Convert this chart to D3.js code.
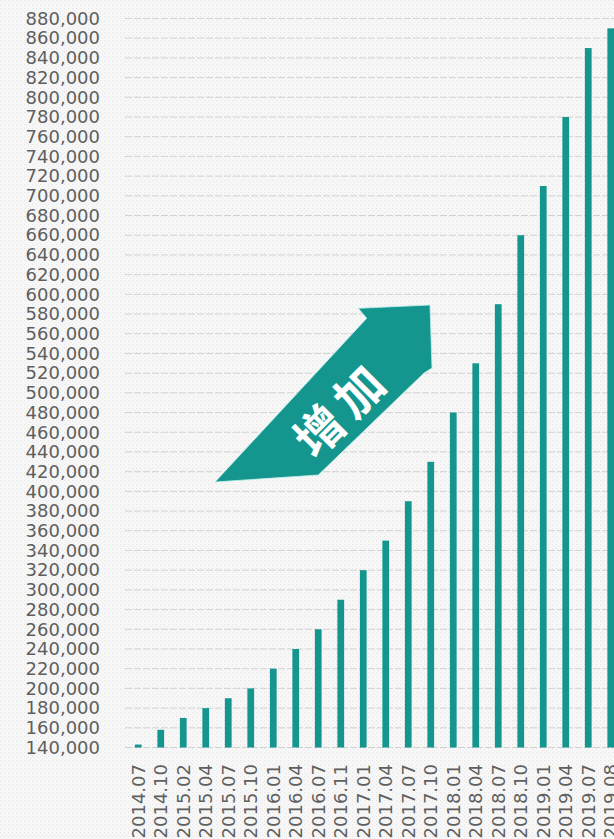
<!DOCTYPE html>
<html>
<head>
<meta charset="utf-8">
<script src="https://cdn.jsdelivr.net/npm/d3@7/dist/d3.min.js"></script>
<style>
  html, body { margin: 0; padding: 0; background: #ffffff; }
  svg { display: block; }
</style>
</head>
<body>
<div id="chart"></div>
<script>
// Monthly totals by period
const periods = ["2014.07","2014.10","2015.02","2015.04","2015.07","2015.10",
  "2016.01","2016.04","2016.07","2016.11","2017.01","2017.04","2017.07","2017.10",
  "2018.01","2018.04","2018.07","2018.10","2019.01","2019.04","2019.07","2019.08"];
const totals = [143000,158000,170000,180000,190000,200000,
  220000,240000,260000,290000,320000,350000,390000,430000,
  480000,530000,590000,660000,710000,780000,850000,870000];
const yTicks = [140000,160000,180000,200000,220000,240000,260000,280000,300000,
  320000,340000,360000,380000,400000,420000,440000,460000,480000,500000,520000,
  540000,560000,580000,600000,620000,640000,660000,680000,700000,720000,740000,
  760000,780000,800000,820000,840000,860000,880000];
const arrowLabel = ["增", "加"];

const W = 614, H = 839;
const teal = "#14968f";
const font = "'DejaVu Sans', sans-serif";

const svg = d3.select("#chart").append("svg")
  .attr("width", W).attr("height", H);

// faint textured backdrop
const defs = svg.append("defs");
const pat = defs.append("pattern").attr("id", "tex")
  .attr("width", 4).attr("height", 4).attr("patternUnits", "userSpaceOnUse");
pat.append("rect").attr("width", 4).attr("height", 4).attr("fill", "#f7f7f7");
pat.append("rect").attr("x", 0).attr("y", 0).attr("width", 1).attr("height", 1).attr("fill", "#e4e4e4");
pat.append("rect").attr("x", 2).attr("y", 2).attr("width", 1).attr("height", 1).attr("fill", "#eaeaea");
svg.append("rect").attr("width", W).attr("height", H).attr("fill", "url(#tex)");

const x = d3.scaleBand().domain(periods).range([127, 622])
  .paddingInner(0.7).paddingOuter(0.35);
const y = d3.scaleLinear().domain([140000, 880000]).range([747.5, 18.5]);

// horizontal gridlines
svg.append("g").selectAll("line").data(yTicks).join("line")
  .attr("x1", 125).attr("x2", W)
  .attr("y1", d => y(d)).attr("y2", d => y(d))
  .attr("stroke", "#d2d2d2").attr("stroke-width", 1)
  .attr("stroke-dasharray", "7,2");

// y axis labels
const yAxis = svg.append("g").attr("transform", "translate(100,0)")
  .call(d3.axisLeft(y).tickValues(yTicks).tickFormat(d3.format(",")).tickSize(0).tickPadding(0));
yAxis.select(".domain").remove();
yAxis.selectAll("text")
  .attr("fill", "#5f5f5f").attr("font-size", 18).attr("font-family", font);

// bars
svg.append("g").selectAll("rect").data(totals).join("rect")
  .attr("x", (d, i) => x(periods[i]))
  .attr("width", x.bandwidth())
  .attr("y", d => y(d))
  .attr("height", d => y(140000) - y(d))
  .attr("fill", teal);

// x axis labels, rotated
const xAxis = svg.append("g").attr("transform", "translate(0,764)")
  .call(d3.axisBottom(x).tickSize(0).tickPadding(0));
xAxis.select(".domain").remove();
xAxis.selectAll("text")
  .attr("fill", "#5f5f5f").attr("font-size", 18).attr("font-family", font)
  .attr("text-anchor", "end")
  .attr("transform", "rotate(-90)")
  .attr("x", 0).attr("y", 0).attr("dy", "0.36em");

// rising arrow annotation
const arrowPts = [[215,482],[366.7,318.3],[358.3,308.3],[430,305],[432,368],[424,373],[318.3,475]];
svg.append("polygon")
  .attr("points", arrowPts.map(p => p.join(",")).join(" "))
  .attr("fill", teal)
  .attr("stroke", "#bff0ee").attr("stroke-width", 0.8).attr("stroke-linejoin", "miter");

const lab = svg.append("g").attr("transform", "translate(337,409) rotate(-45)");
lab.selectAll("text").data(arrowLabel).join("text")
  .attr("x", (d, i) => (i - 0.5) * 56)
  .attr("y", 0)
  .attr("text-anchor", "middle")
  .attr("dominant-baseline", "central")
  .attr("font-family", "'Noto Sans CJK SC', sans-serif")
  .attr("font-weight", "bold")
  .attr("font-size", 48)
  .attr("fill", "#ffffff")
  .text(d => d);
</script>
</body>
</html>
